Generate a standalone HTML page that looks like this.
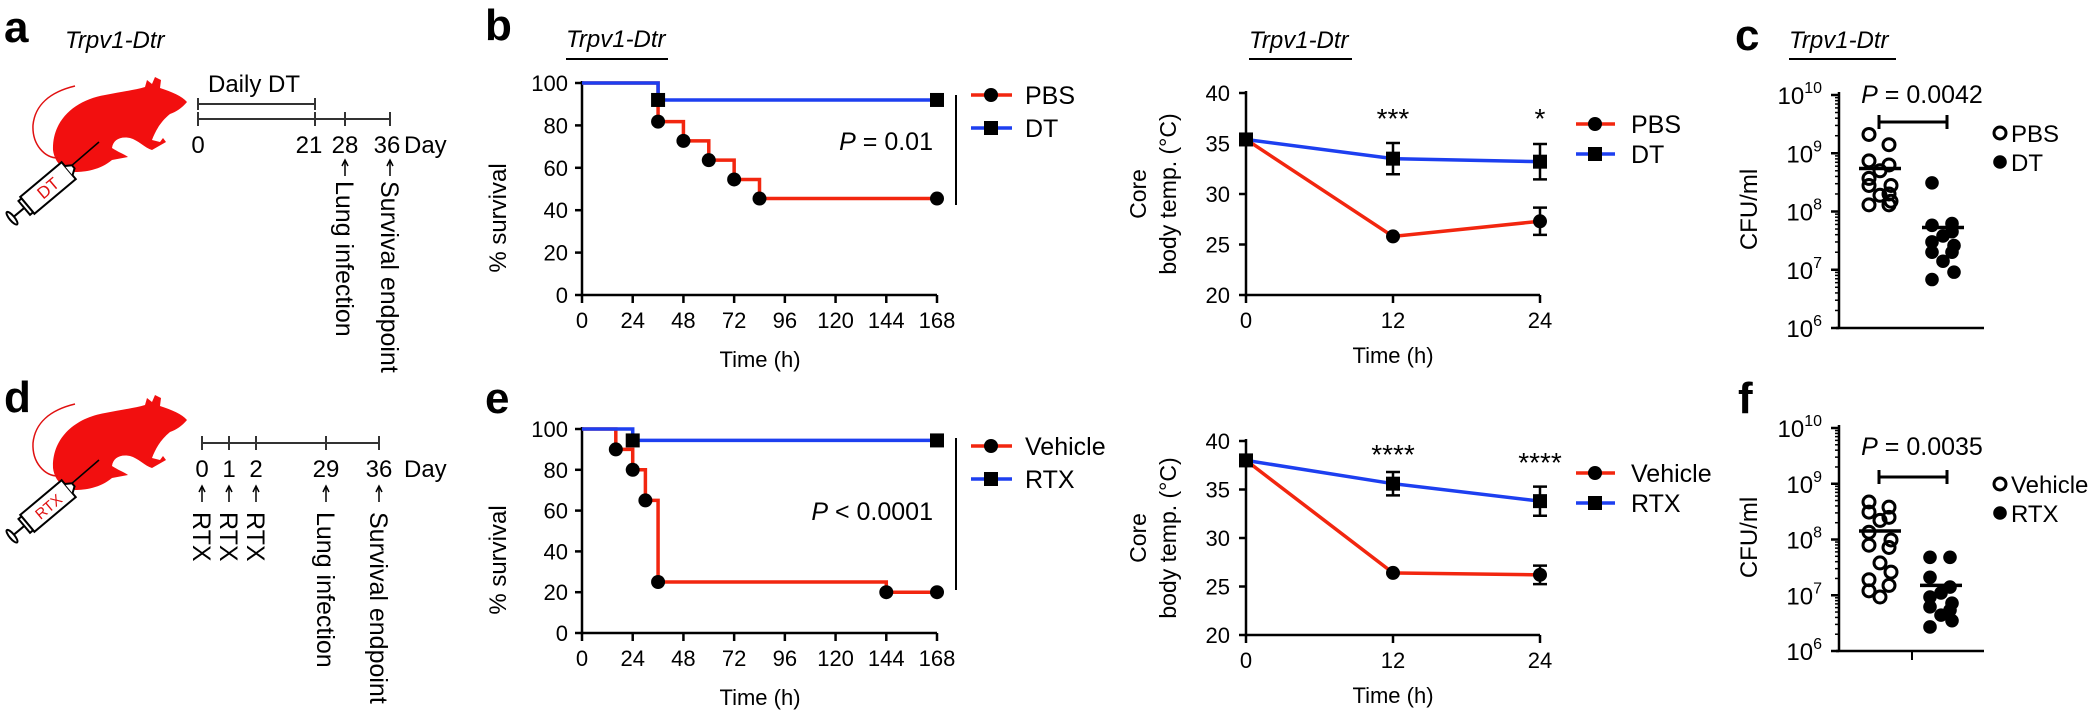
<!DOCTYPE html>
<html><head><meta charset="utf-8"><style>
html,body{margin:0;padding:0;background:#fff;}
svg{display:block;font-family:"Liberation Sans",Arial,sans-serif;}
</style></head><body>
<svg id="fig" width="2100" height="713" viewBox="0 0 2100 713" xmlns="http://www.w3.org/2000/svg">
<defs>
<g id="mouse">
<path fill="#f20f0f" d="M53,150 C52,120 75,100 105,95 C120,92 135,90 145,87 L147,80 L152,84 L155,77 L161,80 L160,88 C172,92 182,96 187,102 C182,108 176,112 170,114 C160,122 155,132 152,140 L160,142 L163,138 L166,142 L152,150 C145,148 138,140 130,138 C120,136 113,140 112,148 C118,152 124,154 128,157 L112,160 C100,170 85,172 75,172 C65,170 55,165 53,150 Z"/>
<path fill="none" stroke="#e01010" stroke-width="1.5" d="M75,86 C50,92 35,105 33,125 C32,145 45,158 58,158"/>
<line x1="70" y1="167" x2="99" y2="142" stroke="#000" stroke-width="1.5"/>
</g>
</defs>
</svg>
<script>
const NS='http://www.w3.org/2000/svg';
const svg=document.getElementById('fig');
const RED='#f2260f', BLUE='#1d3ff0';

// ---------- DATA ----------
const survTicksX=[0,24,48,72,96,120,144,168];
const survTicksY=[0,20,40,60,80,100];
const pbsSurvT=[0,36,48,60,72,84,168];
const pbsSurvV=[100,81.8,72.7,63.6,54.5,45.5,45.5];
const dtSurvT=[0,36,168];
const dtSurvV=[100,92,92];
const vehSurvT=[0,16,24,30,36,144,168];
const vehSurvV=[100,90,80,65,25,20,20];
const rtxSurvT=[0,24,168];
const rtxSurvV=[100,94.4,94.4];

const tempTimes=[0,12,24];
const tempTicksY=[20,25,30,35,40];
const pbsTemp=[35.4,25.8,27.3];
const pbsTempErr=[0,0.3,1.35];
const dtTemp=[35.4,33.5,33.2];
const dtTempErr=[0,1.55,1.75];
const vehTemp=[38,26.4,26.2];
const vehTempErr=[0,0.25,0.95];
const rtxTemp=[38,35.6,33.8];
const rtxTempErr=[0,1.2,1.5];
const topStars=['***','*'];
const botStars=['****','****'];

const cfuDecades=[6,7,8,9,10];
const pbsCFU=[2.1e9,1.4e9,7.4e8,6.3e8,5e8,3.7e8,2.8e8,2.8e8,2e8,1.9e8,1.5e8,1.3e8,1.3e8];
const dtCFU=[3.1e8,6.2e7,5.8e7,4.5e7,3.8e7,3e7,2.6e7,2e7,2e7,1.4e7,9.1e6,6.8e6];
const vehCFU=[4.7e8,3.8e8,3.1e8,2.5e8,2.2e8,1.35e8,9.8e7,7.9e7,7.2e7,3.8e7,2.6e7,1.9e7,1.5e7,1.2e7,9.3e6];
const rtxCFU=[4.8e7,4.8e7,2.1e7,1.4e7,1.1e7,9.3e6,7.2e6,6.2e6,5.4e6,4.4e6,3.5e6,2.7e6];

// ---------- helpers ----------
function mk(tag,attrs,parent){const e=document.createElementNS(NS,tag);for(const k in attrs)e.setAttribute(k,attrs[k]);(parent||svg).appendChild(e);return e;}
function txt(x,y,s,size,opts,parent){opts=opts||{};const e=mk('text',Object.assign({x:x,y:y,'font-size':size,fill:opts.fill||'#000'},opts.a||{}),parent);e.textContent=s;return e;}
function line(x1,y1,x2,y2,w,parent,col){return mk('line',{x1,y1,x2,y2,stroke:col||'#000','stroke-width':w||2.5},parent);}

// ---------- panel letters & titles ----------
[['a',4,42],['b',485,40],['c',1735,50],['d',4,412],['e',485,413],['f',1738,413]].forEach(p=>{
  const t=txt(p[1],p[2],p[0],44,{a:{'font-weight':'bold'}});
  
  
});
[[65,48,null],[566,47,[566,668]],[1249,48,[1249,1352]],[1789,48,[1789,1896]]].forEach((p,i)=>{
  const t=txt(p[0],p[1],'Trpv1-Dtr',24,{a:{'font-style':'italic'}});
  
  
  if(p[2]){const l=line(p[2][0],59,p[2][1],59,2);
    
    }
});

// ---------- mice & timelines ----------
function syringe(dy,label){
  const g=mk('g',{transform:'translate(0,'+dy+')'});
  
  
  const u=mk('use',{href:'#mouse'},g);
  
  
  const s=mk('g',{transform:'translate(48,188) rotate(-40)'},g);
  mk('rect',{x:-27,y:-11,width:54,height:22,fill:'#fff',stroke:'#000','stroke-width':2},s);
  mk('rect',{x:-31,y:-9,width:4,height:18,fill:'#fff',stroke:'#000','stroke-width':2},s);
  mk('line',{x1:-31,y1:0,x2:-45,y2:0,stroke:'#000','stroke-width':2},s);
  mk('ellipse',{cx:-47,cy:0,rx:2.5,ry:8,fill:'#fff',stroke:'#000','stroke-width':2},s);
  mk('path',{d:'M27,-6 L33,-2 L33,2 L27,6',fill:'#fff',stroke:'#000','stroke-width':2},s);
  const t=txt(0,6,label,label.length>2?15:17,{fill:'#e01010',a:{'text-anchor':'middle'}},s);
  
  
}
syringe(0,'DT');
syringe(318,'RTX');

// timeline a
(function(){
  const g=mk('g',{});
  
  
  line(198,104,315,104,2,g,'#333');line(198,98,198,110,2,g,'#333');line(315,98,315,110,2,g,'#333');
  txt(208,92,'Daily DT',24,{},g);
  line(198,119,390,119,2,g,'#333');
  [[198,'0'],[315,'21'],[345,'28'],[390,'36']].forEach(p=>{line(p[0],112,p[0],126,2,g,'#333');});
  txt(198,153,'0',24,{a:{'text-anchor':'middle'}},g);
  txt(309,153,'21',24,{a:{'text-anchor':'middle'}},g);
  txt(345,153,'28',24,{a:{'text-anchor':'middle'}},g);
  txt(387,153,'36',24,{a:{'text-anchor':'middle'}},g);
  txt(404,153,'Day',24,{},g);
  [[345,'Lung infection'],[390,'Survival endpoint']].forEach(p=>{
    line(p[0],161,p[0],176,1.5,g);mk('path',{d:`M${p[0]-3},166 L${p[0]},160 L${p[0]+3},166`,fill:'none',stroke:'#000','stroke-width':1.5},g);
    txt(0,0,p[1],25,{a:{transform:`translate(${p[0]-9},181) rotate(90)`}},g);
  });
})();
// timeline d
(function(){
  const g=mk('g',{});
  
  
  line(202,443,379,443,2,g,'#333');
  [[202,'0','RTX'],[229,'1','RTX'],[256,'2','RTX'],[326,'29','Lung infection'],[379,'36','Survival endpoint']].forEach(p=>{
    line(p[0],436,p[0],450,2,g,'#333');
    txt(p[0],477,p[1],24,{a:{'text-anchor':'middle'}},g);
    line(p[0],487,p[0],502,1.5,g);mk('path',{d:`M${p[0]-3},492 L${p[0]},486 L${p[0]+3},492`,fill:'none',stroke:'#000','stroke-width':1.5},g);
    txt(0,0,p[2],25,{a:{transform:`translate(${p[0]-9},512) rotate(90)`}},g);
  });
  txt(404,477,'Day',24,{},g);
})();

// ---------- survival charts ----------
function survival(yTop,yBot,series,pText,legend,ltop){
  const X=t=>582+(t/168)*355, Y=v=>yBot-(v/100)*(yBot-yTop);
  const g=mk('g',{});
  
  
  line(582,yTop-2,582,yBot+1.25,2.5,g);
  line(580.75,yBot,937,yBot,2.5,g);
  survTicksY.forEach(v=>{line(575,Y(v),582,Y(v),2.5,g);
    const t=txt(568,Y(v)+8,String(v),22,{a:{'text-anchor':'end'}},g);
    
    });
  survTicksX.forEach(v=>{line(X(v),yBot,X(v),yBot+8,2.5,g);
    const t=txt(X(v),yBot+33,String(v),22,{a:{'text-anchor':'middle'}},g);
    
    });
  const xt=txt(760,yBot+72,'Time (h)',22,{a:{'text-anchor':'middle'}},g);
  
  
  const yt=txt(0,0,'% survival',24,{a:{'text-anchor':'middle',transform:`translate(506,${(yTop+yBot)/2+29}) rotate(-90)`}},g);
  
  
  series.forEach(s=>{
    let d=`M${X(s.t[0])},${Y(s.v[0])}`;
    for(let i=1;i<s.t.length;i++){d+=` H${X(s.t[i])} V${Y(s.v[i])}`;}
    const p=mk('path',{d,fill:'none',stroke:s.col,'stroke-width':3.5},g);
    
    
    for(let i=1;i<s.t.length;i++){
      let m;
      if(s.sq) m=mk('rect',{x:X(s.t[i])-7,y:Y(s.v[i])-7,width:14,height:14,fill:'#000'},g);
      else m=mk('circle',{cx:X(s.t[i]),cy:Y(s.v[i]),r:7,fill:'#000'},g);
      
      
    }
  });
  const pt=mk('text',{x:933,y:pText.y,'font-size':25,'text-anchor':'end'},g);
  pt.innerHTML='<tspan font-style="italic">P</tspan>'+pText.s;
  
  
  line(956,pText.l1,956,pText.l2,2,g);
  legend.forEach((L,i)=>{
    const y=ltop+i*33;
    const lg=mk('g',{},g);
    
    
    line(971,y,1012,y,3.5,lg,L.col);
    if(L.sq) mk('rect',{x:984,y:y-7,width:14,height:14,fill:'#000'},lg); else mk('circle',{cx:991,cy:y,r:7,fill:'#000'},lg);
    txt(1025,y+9,L.name,25,{},lg);
  });
}
survival(83,295,[{t:pbsSurvT,v:pbsSurvV,col:RED,name:'pbs'},{t:dtSurvT,v:dtSurvV,col:BLUE,sq:true,name:'dt'}],
  {s:' = 0.01',y:150,l1:95,l2:205},[{name:'PBS',col:RED},{name:'DT',col:BLUE,sq:true}],95);
survival(429,633,[{t:vehSurvT,v:vehSurvV,col:RED,name:'vehicle'},{t:rtxSurvT,v:rtxSurvV,col:BLUE,sq:true,name:'rtx'}],
  {s:' < 0.0001',y:520,l1:438,l2:590},[{name:'Vehicle',col:RED},{name:'RTX',col:BLUE,sq:true}],446);

// ---------- temperature charts ----------
function temp(yTop,yBot,series,stars,starY,legend,ltop){
  const X=t=>1246+(t/24)*294, Y=v=>yBot-((v-20)/20)*(yBot-yTop);
  const g=mk('g',{});
  
  
  line(1246,yTop-2,1246,yBot+1.25,2.5,g);
  line(1244.75,yBot,1540,yBot,2.5,g);
  tempTicksY.forEach(v=>{line(1239,Y(v),1246,Y(v),2.5,g);
    const t=txt(1230,Y(v)+8,String(v),22,{a:{'text-anchor':'end'}},g);
    
    });
  tempTimes.forEach(v=>{line(X(v),yBot,X(v),yBot+8,2.5,g);
    const t=txt(X(v),yBot+33,String(v),22,{a:{'text-anchor':'middle'}},g);
    
    });
  const xt=txt(1393,yBot+68,'Time (h)',22,{a:{'text-anchor':'middle'}},g);
  
  
  const cy=(yTop+yBot)/2;
  const yt=mk('text',{'font-size':23,'text-anchor':'middle',transform:`translate(1146,${cy}) rotate(-90)`},g);
  yt.innerHTML='<tspan x="0" y="0">Core</tspan><tspan x="0" y="30">body temp. (°C)</tspan>';
  
  
  series.forEach(s=>{
    const pts=s.m.map((v,i)=>X(tempTimes[i])+','+Y(v)).join(' ');
    const pl=mk('polyline',{points:pts,fill:'none',stroke:s.col,'stroke-width':3.5},g);
    
    
  });
  series.forEach(s=>{
    s.m.forEach((v,i)=>{
      const x=X(tempTimes[i]);
      if(s.e[i]>0.3){
        const eb=mk('path',{d:`M${x},${Y(v+s.e[i])} V${Y(v-s.e[i])} M${x-7},${Y(v+s.e[i])} H${x+7} M${x-7},${Y(v-s.e[i])} H${x+7}`,stroke:'#000','stroke-width':2.5,fill:'none'},g);
        
        
      }
      let m;
      if(s.sq) m=mk('rect',{x:x-7,y:Y(v)-7,width:14,height:14,fill:'#000'},g);
      else m=mk('circle',{cx:x,cy:Y(v),r:7,fill:'#000'},g);
      
      
    });
  });
  stars.forEach((s,i)=>{const t=txt(X(tempTimes[i+1]),starY[i],s,28,{a:{'text-anchor':'middle'}},g);
    
    });
  legend.forEach((L,i)=>{
    const y=ltop+i*30;
    const lg=mk('g',{},g);
    
    
    line(1576,y,1615,y,3.5,lg,L.col);
    if(L.sq) mk('rect',{x:1588,y:y-7,width:14,height:14,fill:'#000'},lg); else mk('circle',{cx:1595,cy:y,r:7,fill:'#000'},lg);
    txt(1631,y+9,L.name,25,{},lg);
  });
}
temp(93,295,[{m:pbsTemp,e:pbsTempErr,col:RED,name:'pbs'},{m:dtTemp,e:dtTempErr,col:BLUE,sq:true,name:'dt'}],
  topStars,[128,128],[{name:'PBS',col:RED},{name:'DT',col:BLUE,sq:true}],124);
temp(441,635,[{m:vehTemp,e:vehTempErr,col:RED,name:'vehicle'},{m:rtxTemp,e:rtxTempErr,col:BLUE,sq:true,name:'rtx'}],
  botStars,[464,472],[{name:'Vehicle',col:RED},{name:'RTX',col:BLUE,sq:true}],473);

// ---------- CFU scatter ----------
function scatter(yTop,yBot,groups,pText,pY,brY,legend,ltop,extraTick){
  const Y=v=>yBot-((Math.log10(v)-6)/4)*(yBot-yTop);
  const g=mk('g',{});
  
  
  line(1839,yTop-3,1839,yBot,2.5,g);
  line(1836,yBot,1984,yBot,2.5,g);
  if(extraTick) line(1912,yBot,1912,yBot+9,2,g);
  cfuDecades.forEach(d=>{
    const y=Y(Math.pow(10,d));
    line(1831,y,1839,y,2.5,g);
    const t=mk('text',{x:1822,y:y+9,'font-size':24,'text-anchor':'end'},g);
    t.innerHTML='10<tspan dy="-11" font-size="16">'+d+'</tspan>';
    
    
    if(d<10) for(let k=2;k<10;k++){line(1835,Y(k*Math.pow(10,d)),1839,Y(k*Math.pow(10,d)),1.5,g);}
  });
  const yt=txt(0,0,'CFU/ml',24,{a:{'text-anchor':'middle',transform:`translate(1757,${(yTop+yBot)/2-2}) rotate(-90)`}},g);
  
  
  const jit=[-11,9,-11,9,0,-11,11,-11,9,0,11,-11,9,-11,0];
  groups.forEach(G=>{
    G.d.forEach((v,i)=>{
      const c=mk('circle',{cx:G.cx+jit[i%jit.length],cy:Y(v),r:G.open?6:6.8,fill:G.open?'none':'#000',stroke:'#000','stroke-width':G.open?3:0},g);
      
      
    });
    const mean=G.d.reduce((a,b)=>a+b,0)/G.d.length;
    const ml=line(G.cx-21,Y(mean),G.cx+21,Y(mean),3.5,g);
    
    
  });
  const pt=mk('text',{x:1922,y:pY,'font-size':25,'text-anchor':'middle'},g);
  pt.innerHTML='<tspan font-style="italic">P</tspan>'+pText;
  
  
  const br=mk('path',{d:`M1879,${brY} H1947 M1879,${brY-7} V${brY+7} M1947,${brY-7} V${brY+7}`,stroke:'#000','stroke-width':3,fill:'none'},g);
  
  
  legend.forEach((L,i)=>{
    const y=ltop+i*29;
    const lg=mk('g',{},g);
    
    
    mk('circle',{cx:2000,cy:y,r:L.open?6:6.8,fill:L.open?'none':'#000',stroke:'#000','stroke-width':L.open?3:0},lg);
    txt(2011,y+9,L.name,24,{},lg);
  });
}
scatter(95,328,[{d:pbsCFU,cx:1880,open:true,name:'pbs'},{d:dtCFU,cx:1943,name:'dt'}],' = 0.0042',103,122,
  [{name:'PBS',open:true},{name:'DT'}],133,false);
scatter(428,651,[{d:vehCFU,cx:1880,open:true,name:'vehicle'},{d:rtxCFU,cx:1941,name:'rtx'}],' = 0.0035',455,477,
  [{name:'Vehicle',open:true},{name:'RTX'}],484,true);
</script>
</body></html>
